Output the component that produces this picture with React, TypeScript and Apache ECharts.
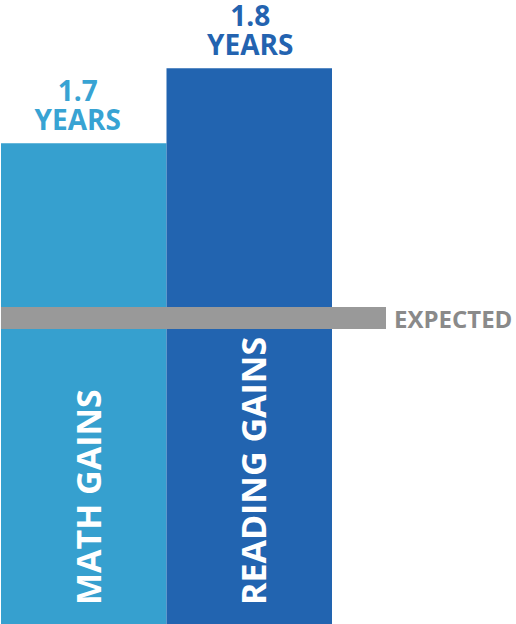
import React, { useEffect, useRef } from "react";
import * as echarts from "echarts";

const categories = ["Math", "Reading"];
const gainValues = [1.7, 1.8];
const barNames = ["MATH GAINS", "READING GAINS"];
const unitLabel = "YEARS";
const expectedValue = 1.467;
const expectedLabel = "EXPECTED";

const barColors = ["#36A0CF", "#2264B0"];
const labelColors = ["#38A3D3", "#2363B0"];
const FONT = "'Open Sans', 'Noto Sans', sans-serif";

export default function App() {
  const ref = useRef<HTMLDivElement>(null);
  useEffect(() => {
    if (!ref.current) return;
    const chart = echarts.init(ref.current, null, { renderer: "svg" });
    chart.setOption({
      animation: false,
      grid: { left: 1, top: 0, width: 331, height: 624 },
      xAxis: { type: "category", data: categories, show: false },
      yAxis: { type: "value", min: 1.059, max: 1.891, show: false, splitLine: { show: false } },
      series: [
        {
          type: "bar",
          barCategoryGap: "0%",
          barGap: "-100%",
          data: gainValues.map((v, i) => ({
            value: v,
            itemStyle: { color: barColors[i] },
            label: { color: labelColors[i], offset: i === 0 ? [-6, 0] : [1, 0] },
          })),
          label: {
            show: true,
            position: "top",
            distance: 10,
            formatter: (p: any) => `${p.value}\n${unitLabel}`,
            fontFamily: FONT,
            fontWeight: 700,
            fontSize: 28,
            lineHeight: 29,
          },
          markLine: {
            silent: true,
            symbol: ["none", "none"],
            lineStyle: { color: "#999999", width: 22, type: "solid", cap: "butt" },
            label: {
              show: true,
              position: "end",
              formatter: expectedLabel,
              color: "#8A8A8A",
              fontFamily: FONT,
              fontWeight: 700,
              fontSize: 24,
              distance: 8,
            },
            data: [
              [
                { xAxis: categories[0], yAxis: expectedValue, x: 1 },
                { xAxis: categories[1], yAxis: expectedValue, x: 386 },
              ],
            ],
          },
        },
        {
          type: "bar",
          barCategoryGap: "0%",
          barGap: "-100%",
          silent: true,
          itemStyle: { color: "transparent" },
          data: gainValues,
          label: {
            show: true,
            position: "insideBottom",
            distance: 21,
            rotate: 90,
            align: "left",
            verticalAlign: "middle",
            offset: [-2, 4],
            formatter: (p: any) => barNames[p.dataIndex],
            color: "#FFFFFF",
            fontFamily: FONT,
            fontWeight: 700,
            fontSize: 34,
          },
        },
      ],
    });
    return () => chart.dispose();
  }, []);
  return (
    <div
      ref={ref}
      style={{ position: "absolute", left: 0, top: 0, width: 516, height: 624 }}
    />
  );
}
